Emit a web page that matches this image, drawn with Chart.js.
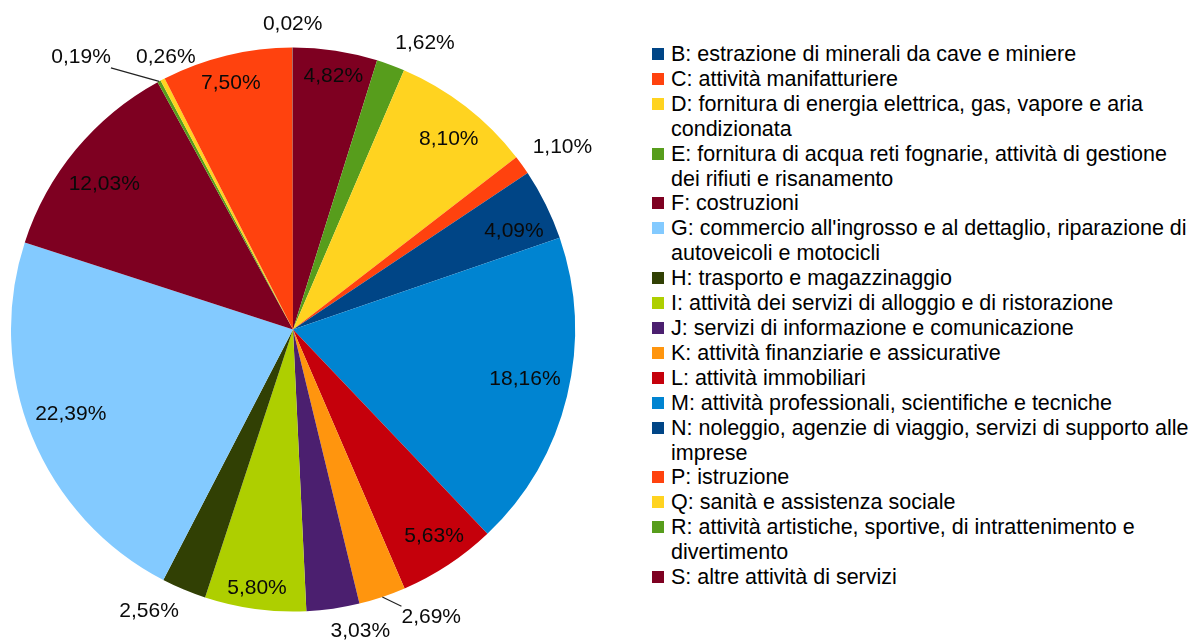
<!DOCTYPE html>
<html>
<head>
<meta charset="utf-8">
<script src="https://cdn.jsdelivr.net/npm/chart.js@4.4.0/dist/chart.umd.min.js"></script>
<style>
html,body{margin:0;padding:0;background:#fff;}
body{width:1199px;height:642px;position:relative;overflow:hidden;font-family:"Liberation Sans",Arial,sans-serif;}
#wrap{position:absolute;left:0;top:0;width:640px;height:642px;}
#legend{position:absolute;left:652px;top:42px;width:546px;font-size:21.5px;line-height:24.9px;color:#000;}
#legend .row{position:relative;padding-left:19px;}
#legend .sw{position:absolute;left:0;top:6px;width:12px;height:12px;}
</style>
</head>
<body>
<div id="wrap"><canvas id="pie" width="640" height="642"></canvas></div>
<div id="legend"></div>
<script>
// sezioni ATECO, in ordine di legenda
const codes = ["B","C","D","E","F","G","H","I","J","K","L","M","N","P","Q","R","S"];

const categories = [
"B: estrazione di minerali da cave e miniere",
"C: attività manifatturiere",
"D: fornitura di energia elettrica, gas, vapore e aria condizionata",
"E: fornitura di acqua reti fognarie, attività di gestione dei rifiuti e risanamento",
"F: costruzioni",
"G: commercio all'ingrosso e al dettaglio, riparazione di autoveicoli e motocicli",
"H: trasporto e magazzinaggio",
"I: attività dei servizi di alloggio e di ristorazione",
"J: servizi di informazione e comunicazione",
"K: attività finanziarie e assicurative",
"L: attività immobiliari",
"M: attività professionali, scientifiche e tecniche",
"N: noleggio, agenzie di viaggio, servizi di supporto alle imprese",
"P: istruzione",
"Q: sanità e assistenza sociale",
"R: attività artistiche, sportive, di intrattenimento e divertimento",
"S: altre attività di servizi"
];

const shares = [0.02, 7.50, 0.26, 0.19, 12.03, 22.39, 2.56, 5.80, 3.03, 2.69, 5.63, 18.16, 4.09, 1.10, 8.10, 1.62, 4.82];

const colors = [
"#004586","#ff420e","#ffd320","#579d1c","#7e0021","#83caff",
"#314004","#aecf00","#4b1f6f","#ff950e","#c5000b","#0084d1",
"#004586","#ff420e","#ffd320","#579d1c","#7e0021"
];

// etichette piccole fuori dalla torta
const outsideLabels = ["B","D","E","H","J","K","P","R"];
// spostamenti delle etichette sovrapposte (px)
const labelShift = {D:[39,-1], E:[-42,-3], K:[15,-2]};
const leaderLines = ["E","K"];

// la torta va in senso antiorario: inverto per Chart.js (orario)
const pieCodes = codes.slice().reverse();
const pieValues = shares.slice().reverse();
const pieColors = colors.slice().reverse();

const fmt = v => v.toFixed(2).replace(".",",")+"%";
const clamp = v => Math.max(-1,Math.min(1,v));

const pctLabels = {
id:"pctLabels",
afterDatasetsDraw(chart){
const ctx = chart.ctx;
const meta = chart.getDatasetMeta(0);
ctx.save();
ctx.font = '21px "Liberation Sans"';
ctx.textAlign = "center";
ctx.textBaseline = "middle";
meta.data.forEach((arc,i)=>{
const p = arc.getProps(["x","y","startAngle","endAngle","outerRadius"],true);
const a = (p.startAngle+p.endAngle)/2;
const c = Math.cos(a), s = Math.sin(a);
const code = pieCodes[i];
const txt = fmt(pieValues[i]);
const w = ctx.measureText(txt).width;
let x, y;
if(outsideLabels.includes(code)){
const h = 20;
const r = p.outerRadius+13;
x = p.x + r*c + clamp(c*6)*w/2;
y = p.y + r*s + clamp(s*6)*h/2;
const sh = labelShift[code];
if(sh){ x += sh[0]; y += sh[1]; }
if(leaderLines.includes(code)){
const ex = p.x + p.outerRadius*c, ey = p.y + p.outerRadius*s;
const bx = Math.max(x-w/2, Math.min(x+w/2, ex));
const by = Math.max(y-h/2-1, Math.min(y+h/2+1, ey));
ctx.strokeStyle = "#222";
ctx.lineWidth = 1.2;
ctx.beginPath();
ctx.moveTo(ex,ey);
ctx.lineTo(bx,by);
ctx.stroke();
}
} else {
// il bordo esterno del testo sta sul raggio medio,
// l'angolo più lontano a ~8px dal bordo della torta
const hw = w/2, hh = 9;
const d = p.outerRadius - 8.5;
const r = -Math.abs(c)*hw + Math.sqrt(d*d - hw*hw*s*s);
x = p.x + r*c;
y = p.y + r*s - Math.sign(s)*hh + 2;
}
ctx.fillStyle = "#0a0a0a";
ctx.fillText(txt,x,y);
});
ctx.restore();
}
};

new Chart(
document.getElementById("pie"),
{
type:"pie",
data:{
labels:pieCodes,
datasets:[{
data:pieValues,
backgroundColor:pieColors,
borderWidth:0
}]
},
options:{
responsive:false,
animation:false,
layout:{padding:{left:11,right:65,top:47,bottom:30}},
plugins:{
legend:{display:false},
tooltip:{enabled:false}
}
},
plugins:[pctLabels]
}
);

// legenda
const legend = document.getElementById("legend");
categories.forEach((t,i)=>{
legend.innerHTML += `<div class="row"><span class="sw" style="background:${colors[i]}"></span>${t}</div>`;
});
</script>
</body>
</html>
